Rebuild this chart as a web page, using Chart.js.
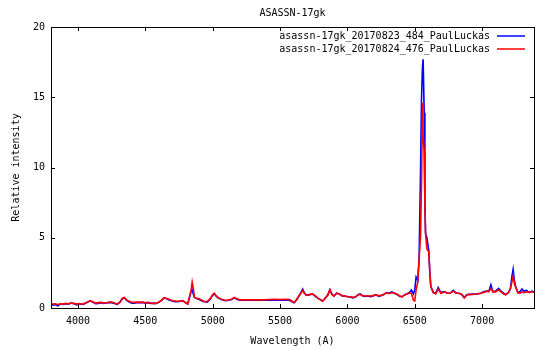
<!DOCTYPE html>
<html>
<head>
<meta charset="utf-8">
<script src="https://cdn.jsdelivr.net/npm/chart.js@4.4.0/dist/chart.umd.min.js"></script>
<style>
  body { margin: 0; background: #fff; }
  canvas { display: block; }
</style>
</head>
<body>
<canvas id="graphic-spectrum" width="550" height="350"></canvas>
<script>
// Wavelength samples (Angstrom) shared by both spectra
const wavelengths = [3800, 3815, 3830, 3850, 3870, 3890, 3910, 3930, 3950, 3970, 3990, 4010, 4030, 4050, 4070, 4090, 4110, 4130, 4150, 4170, 4190, 4210, 4230, 4250, 4270, 4290, 4310, 4330, 4345, 4360, 4380, 4400, 4420, 4440, 4460, 4480, 4500, 4520, 4540, 4560, 4580, 4600, 4620, 4640, 4660, 4680, 4700, 4720, 4740, 4760, 4780, 4800, 4815, 4830, 4840, 4848, 4856, 4865, 4880, 4900, 4920, 4940, 4960, 4980, 5000, 5012, 5025, 5040, 5060, 5080, 5100, 5120, 5140, 5160, 5180, 5200, 5230, 5260, 5300, 5340, 5380, 5420, 5460, 5500, 5540, 5570, 5590, 5605, 5620, 5640, 5655, 5668, 5680, 5695, 5715, 5740, 5760, 5780, 5800, 5815, 5835, 5855, 5870, 5885, 5900, 5920, 5940, 5960, 5980, 6000, 6020, 6040, 6060, 6080, 6095, 6110, 6130, 6150, 6170, 6190, 6210, 6230, 6250, 6270, 6290, 6310, 6330, 6350, 6370, 6390, 6405, 6420, 6440, 6460, 6475, 6490, 6500, 6510, 6522, 6532, 6543, 6550, 6557, 6562, 6570, 6575, 6580, 6590, 6604, 6612, 6619, 6637, 6655, 6674, 6694, 6710, 6724, 6740, 6761, 6786, 6805, 6823, 6845, 6868, 6885, 6900, 6930, 6960, 6990, 7010, 7035, 7050, 7065, 7080, 7100, 7122, 7140, 7160, 7175, 7195, 7210, 7222, 7230, 7240, 7250, 7265, 7280, 7296, 7310, 7330, 7350, 7370, 7385];

const spec0823 = [0.25, 0.2, 0.25, 0.15, 0.28, 0.25, 0.3, 0.28, 0.35, 0.3, 0.22, 0.3, 0.25, 0.3, 0.4, 0.5, 0.42, 0.3, 0.33, 0.38, 0.33, 0.35, 0.4, 0.38, 0.33, 0.25, 0.4, 0.65, 0.72, 0.55, 0.42, 0.35, 0.35, 0.4, 0.38, 0.4, 0.35, 0.38, 0.33, 0.33, 0.33, 0.4, 0.55, 0.72, 0.65, 0.55, 0.5, 0.45, 0.45, 0.48, 0.5, 0.38, 0.3, 0.8, 1.2, 1.3, 1.0, 0.75, 0.68, 0.6, 0.5, 0.45, 0.42, 0.6, 0.9, 1.02, 0.85, 0.72, 0.62, 0.55, 0.52, 0.55, 0.6, 0.72, 0.62, 0.55, 0.55, 0.55, 0.55, 0.55, 0.55, 0.55, 0.58, 0.55, 0.58, 0.55, 0.45, 0.38, 0.55, 0.85, 1.1, 1.35, 1.1, 0.9, 0.92, 1.0, 0.85, 0.7, 0.6, 0.48, 0.68, 0.95, 1.3, 1.0, 0.85, 1.05, 1.0, 0.85, 0.85, 0.8, 0.78, 0.72, 0.78, 0.95, 1.0, 0.88, 0.82, 0.85, 0.8, 0.85, 0.95, 0.85, 0.88, 0.95, 1.1, 1.05, 1.15, 1.05, 0.95, 0.82, 0.8, 0.9, 1.0, 1.1, 1.28, 1.0, 1.3, 2.2, 2.0, 3.4, 9.8, 14.8, 17.1, 17.7, 13.9, 7.5, 5.3, 5.0, 4.1, 2.5, 1.55, 1.1, 1.05, 1.45, 1.1, 1.15, 1.15, 1.05, 1.05, 1.25, 1.08, 1.05, 1.0, 0.75, 0.95, 0.97, 1.0, 1.0, 1.05, 1.15, 1.2, 1.2, 1.65, 1.15, 1.2, 1.4, 1.2, 1.05, 0.95, 1.1, 1.4, 2.3, 2.75, 1.9, 1.5, 1.1, 1.15, 1.35, 1.2, 1.25, 1.1, 1.2, 1.12];

const spec0824 = [0.3, 0.28, 0.3, 0.25, 0.3, 0.28, 0.33, 0.3, 0.35, 0.33, 0.28, 0.32, 0.27, 0.33, 0.42, 0.52, 0.45, 0.35, 0.38, 0.4, 0.35, 0.37, 0.4, 0.42, 0.35, 0.27, 0.4, 0.7, 0.75, 0.58, 0.48, 0.4, 0.4, 0.42, 0.4, 0.42, 0.38, 0.4, 0.35, 0.33, 0.33, 0.42, 0.55, 0.73, 0.68, 0.6, 0.52, 0.5, 0.48, 0.5, 0.52, 0.35, 0.28, 0.9, 1.25, 1.83, 1.4, 0.75, 0.7, 0.65, 0.55, 0.45, 0.48, 0.65, 0.95, 1.05, 0.88, 0.75, 0.65, 0.57, 0.55, 0.58, 0.62, 0.75, 0.65, 0.58, 0.58, 0.58, 0.58, 0.58, 0.58, 0.6, 0.62, 0.6, 0.62, 0.6, 0.48, 0.4, 0.55, 0.85, 1.05, 1.25, 1.05, 0.92, 0.95, 1.0, 0.88, 0.7, 0.58, 0.5, 0.7, 0.9, 1.3, 0.95, 0.85, 1.05, 1.0, 0.88, 0.85, 0.82, 0.8, 0.76, 0.8, 0.95, 0.98, 0.88, 0.85, 0.85, 0.85, 0.88, 0.93, 0.88, 0.9, 0.98, 1.08, 1.02, 1.1, 1.05, 0.98, 0.85, 0.8, 0.92, 1.0, 1.05, 1.05, 0.55, 0.5, 1.3, 1.8, 3.4, 5.2, 8.9, 14.6, 12.2, 11.2, 7.5, 5.3, 4.2, 4.0, 2.5, 1.55, 1.1, 1.0, 1.35, 1.05, 1.1, 1.15, 1.05, 1.05, 1.2, 1.05, 1.05, 1.0, 0.72, 0.92, 0.95, 0.97, 1.0, 1.05, 1.1, 1.2, 1.15, 1.4, 1.15, 1.15, 1.3, 1.15, 1.0, 0.95, 1.1, 1.35, 1.9, 2.25, 1.7, 1.45, 1.1, 1.05, 1.15, 1.1, 1.15, 1.1, 1.15, 1.12];

const seriesNames = ['asassn-17gk_20170823_484_PaulLuckas', 'asassn-17gk_20170824_476_PaulLuckas'];
const seriesColors = ['#0000ff', '#ff0000'];
const xTicks = [4000, 4500, 5000, 5500, 6000, 6500, 7000];
const yTicks = [0, 5, 10, 15, 20];

const FONT = 'DejaVu Sans Mono';
Chart.defaults.font.family = FONT;
Chart.defaults.font.size = 10;
Chart.defaults.color = '#000';

function toPoints(values) {
    return wavelengths.map((w, i) => ({ x: w, y: values[i] }));
}

// Frame, inward ticks (mirrored), title and gnuplot style key
const gnuplotDecor = {
    id: 'gnuplotDecor',
    afterDatasetsDraw(chart) {
        const ctx = chart.ctx;
        const area = chart.chartArea;
        const xs = chart.scales.x;
        const ys = chart.scales.y;
        const tl = 4;
        ctx.save();
        ctx.strokeStyle = '#000';
        ctx.lineWidth = 1;
        ctx.beginPath();
        xTicks.forEach(v => {
            const px = Math.round(xs.getPixelForValue(v)) + 0.5;
            ctx.moveTo(px, area.bottom); ctx.lineTo(px, area.bottom - tl);
            ctx.moveTo(px, area.top); ctx.lineTo(px, area.top + tl);
        });
        yTicks.forEach(v => {
            const py = Math.round(ys.getPixelForValue(v)) + 0.5;
            ctx.moveTo(area.left, py); ctx.lineTo(area.left + tl, py);
            ctx.moveTo(area.right, py); ctx.lineTo(area.right - tl, py);
        });
        ctx.stroke();
        ctx.strokeRect(Math.round(area.left) + 0.5, Math.round(area.top) + 0.5,
            Math.round(area.right - area.left), Math.round(area.bottom - area.top));

        // title
        ctx.fillStyle = '#000';
        ctx.font = '10px "' + FONT + '"';
        ctx.textAlign = 'center';
        ctx.textBaseline = 'middle';
        ctx.fillText('ASASSN-17gk', (area.left + area.right) / 2, 13);

        // key: text then line sample
        ctx.textAlign = 'right';
        ctx.lineWidth = 1.5;
        seriesNames.forEach((name, i) => {
            const y = area.top + 9 + i * 13;
            ctx.fillStyle = '#000';
            ctx.fillText(name, area.right - 44, y);
            ctx.strokeStyle = seriesColors[i];
            ctx.beginPath();
            ctx.moveTo(area.right - 37, y);
            ctx.lineTo(area.right - 9, y);
            ctx.stroke();
        });
        ctx.restore();
    }
};

new Chart(document.getElementById('graphic-spectrum'), {
    type: 'line',
    data: {
        datasets: [
            {
                label: seriesNames[0],
                data: toPoints(spec0823),
                borderColor: seriesColors[0],
                backgroundColor: seriesColors[0],
                borderWidth: 1.6,
                pointRadius: 0,
                tension: 0,
                order: 2
            },
            {
                label: seriesNames[1],
                data: toPoints(spec0824),
                borderColor: seriesColors[1],
                backgroundColor: seriesColors[1],
                borderWidth: 1.6,
                pointRadius: 0,
                tension: 0,
                order: 1
            }
        ]
    },
    options: {
        responsive: false,
        maintainAspectRatio: false,
        animation: false,
        layout: { padding: { top: 27, right: 16, left: 0, bottom: 0 } },
        scales: {
            x: {
                type: 'linear',
                min: 3800,
                max: 7385,
                afterBuildTicks: s => { s.ticks = xTicks.map(v => ({ value: v })); },
                afterFit: s => { s.height = 42; },
                grid: { display: false, drawTicks: false },
                border: { display: false },
                ticks: { padding: 7, autoSkip: false, maxRotation: 0, callback: v => String(v) },
                title: { display: true, text: 'Wavelength (A)', padding: { top: 0, bottom: 3 } }
            },
            y: {
                min: 0,
                max: 20,
                afterBuildTicks: s => { s.ticks = yTicks.map(v => ({ value: v })); },
                afterFit: s => { s.width = 51; },
                grid: { display: false, drawTicks: false },
                border: { display: false },
                ticks: { padding: 6, callback: v => String(v) },
                title: { display: true, text: 'Relative intensity', padding: { top: 10, bottom: 0 } }
            }
        },
        plugins: {
            legend: { display: false },
            tooltip: { enabled: false }
        }
    },
    plugins: [gnuplotDecor]
});
</script>
</body>
</html>
